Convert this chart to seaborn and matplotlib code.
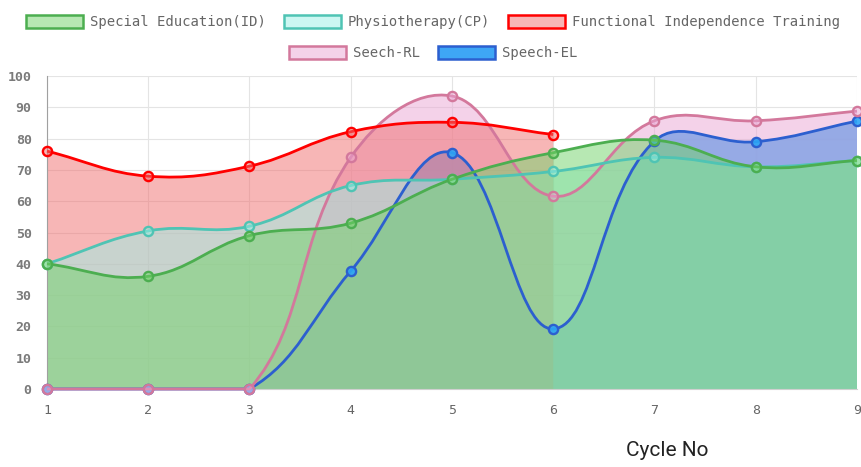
import numpy as np
import pandas as pd
import matplotlib
matplotlib.use("Agg")
import matplotlib.pyplot as plt
from matplotlib.path import Path
from matplotlib.patches import PathPatch, Patch
import seaborn as sns

# data
cycles = [1, 2, 3, 4, 5, 6, 7, 8, 9]
special_education = [40, 36, 49, 53, 67, 75.5, 79.5, 71, 73]
physiotherapy = [40, 50.5, 52, 65, 67, 69.5, 74, 71, 73]
functional_training = [76, 68, 71.2, 82.2, 85.2, 81.3]
speech_rl = [0, 0, 0, 74, 93.6, 61.6, 85.7, 85.7, 88.8]
speech_el = [0, 0, 0, 37.7, 75.5, 19.2, 79.2, 79, 85.6]

labels = ["Special Education(ID)", "Physiotherapy(CP)",
          "Functional Independence Training", "Seech-RL", "Speech-EL"]
line_colors = ["#4cae50", "#4fc4b4", "#ff0000", "#d3789c", "#2c5fcf"]
fill_colors = [(113/255, 210/255, 105/255, 0.5),
               (155/255, 240/255, 230/255, 0.5),
               (240/255, 110/255, 110/255, 0.5),
               (235/255, 167/255, 213/255, 0.5),
               (45/255, 165/255, 245/255, 0.9)]


def spline_path(xs, ys, tension=0.4, sx=101.25, sy=3.13, ymax=100):
    # chart.js style bezier through the points, done in pixel-ish space
    px = np.asarray(xs, float) * sx
    py = np.asarray(ys, float) * sy
    n = len(px)
    cprev, cnext = [], []
    for i in range(n):
        a = i - 1 if i > 0 else i
        b = i + 1 if i < n - 1 else i
        d01 = np.hypot(px[i] - px[a], py[i] - py[a])
        d12 = np.hypot(px[b] - px[i], py[b] - py[i])
        tot = d01 + d12
        s01 = d01 / tot if tot else 0
        s12 = d12 / tot if tot else 0
        dx, dy = px[b] - px[a], py[b] - py[a]
        cprev.append((px[i] - tension * s01 * dx, py[i] - tension * s01 * dy))
        cnext.append((px[i] + tension * s12 * dx, py[i] + tension * s12 * dy))

    def cap(p):
        return (min(max(p[0], px[0]), px[-1]) / sx,
                min(max(p[1], 0), ymax * sy) / sy)

    verts = [(xs[0], ys[0])]
    codes = [Path.MOVETO]
    for i in range(n - 1):
        verts += [cap(cnext[i]), cap(cprev[i + 1]), (xs[i + 1], ys[i + 1])]
        codes += [Path.CURVE4] * 3
    return verts, codes


sns.set_style("white")
plt.rcParams["font.family"] = ["DejaVu Sans Mono"]

fig = plt.figure(figsize=(8.62, 4.67), dpi=100)
ax = fig.add_axes([47 / 862, 78 / 467, 810 / 862, 313 / 467])

series = [special_education, physiotherapy, functional_training, speech_rl, speech_el]

# chart.js draws all fills first, then lines + points, last dataset first
for k in reversed(range(len(series))):
    ys = series[k]
    xs = cycles[:len(ys)]
    verts, codes = spline_path(xs, ys)
    fill_verts = verts + [(xs[-1], 0), (xs[0], 0), (xs[0], 0)]
    fill_codes = codes + [Path.LINETO, Path.LINETO, Path.CLOSEPOLY]
    ax.add_patch(PathPatch(Path(fill_verts, fill_codes), facecolor=fill_colors[k],
                           edgecolor="none", zorder=2))
    z = 3 + (4 - k) * 0.1
    ax.add_patch(PathPatch(Path(verts, codes), facecolor="none", clip_on=False,
                           edgecolor=line_colors[k], linewidth=2.0, zorder=z))
    df = pd.DataFrame({"cycle": xs, "value": ys})
    sns.scatterplot(data=df, x="cycle", y="value", ax=ax, s=44,
                    color=fill_colors[k], edgecolor=line_colors[k],
                    linewidth=1.7, zorder=z + 0.05, clip_on=False, legend=False)

ax.set_xlim(1, 9)
ax.set_ylim(0, 100)
ax.set_xticks(cycles)
ax.set_yticks(range(0, 101, 10))
ax.set_xlabel("")
ax.set_ylabel("")
ax.grid(True, color="#e4e4e4", linewidth=0.8, zorder=0)
ax.set_axisbelow(True)
for side in ["top", "right"]:
    ax.spines[side].set_visible(False)
ax.spines["left"].set_color("#a0a0a0")
ax.spines["bottom"].set_color("#d0d0d0")
ax.tick_params(axis="both", length=8, color="#d8d8d8", labelcolor="#666666",
               labelsize=9.5, pad=3)
for lab in ax.get_yticklabels():
    lab.set_fontweight("bold")
    lab.set_color("#7a7a7a")

fig.text(667 / 862, 1 - 451 / 467, "Cycle No", ha="center", va="center",
         fontsize=15, family="Roboto", weight="normal", color="#222222")

handles = [Patch(facecolor=fill_colors[k] if k < 4 else "#3ea6f5",
                 edgecolor=line_colors[k], linewidth=1.8) for k in range(5)]
leg_kw = dict(frameon=False, fontsize=10, handlelength=4.1, handleheight=1.1,
              handletextpad=0.5, columnspacing=1.3, labelcolor="#666666",
              loc="center")
fig.legend(handles[:3], labels[:3], ncol=3,
           bbox_to_anchor=(433 / 862, 1 - 22 / 467), **leg_kw)
fig.legend(handles[3:], labels[3:], ncol=2,
           bbox_to_anchor=(433 / 862, 1 - 53 / 467), **leg_kw)

fig.savefig("out.png", dpi=100)
plt.close(fig)
